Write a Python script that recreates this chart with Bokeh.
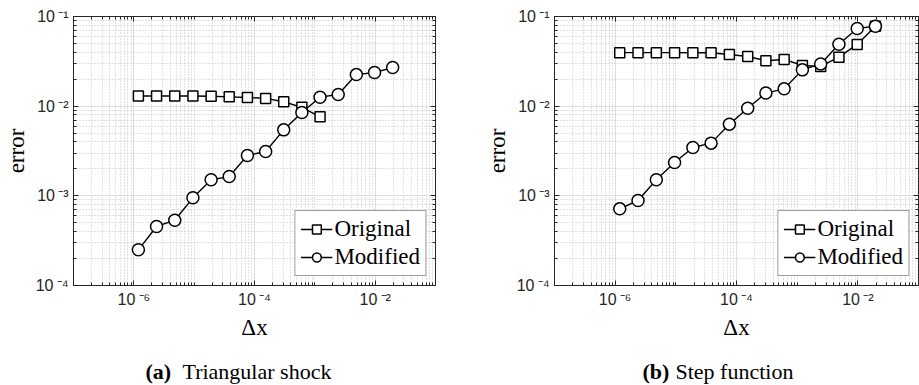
from bokeh.plotting import figure
from bokeh.models import (Range1d, LogAxis, FixedTicker, CustomJSTickFormatter,
                          Legend, LegendItem, Label)
from bokeh.layouts import row, column
from bokeh.embed import file_html
from bokeh.resources import INLINE

# ---------------- data ----------------
dx = [1.19e-6, 2.38e-6, 4.77e-6, 9.54e-6, 1.91e-5, 3.81e-5, 7.63e-5, 1.53e-4,
      3.05e-4, 6.10e-4, 1.22e-3, 2.44e-3, 4.88e-3, 9.77e-3, 1.95e-2]

tri_original = [0.0130, 0.0130, 0.0130, 0.0130, 0.0129, 0.0127, 0.0125, 0.0122,
                0.0112, 0.0097, 0.0076]
tri_modified = [2.50e-4, 4.55e-4, 5.35e-4, 9.5e-4, 1.51e-3, 1.64e-3, 2.82e-3, 3.12e-3,
                5.44e-3, 8.49e-3, 0.0126, 0.0135, 0.0225, 0.0237, 0.0270]

step_original = [0.0395, 0.0395, 0.0395, 0.0395, 0.0394, 0.0394, 0.0377, 0.0358,
                 0.0321, 0.0332, 0.0284, 0.0277, 0.0352, 0.0488, 0.0780]
step_modified = [7.16e-4, 8.87e-4, 1.51e-3, 2.35e-3, 3.46e-3, 3.87e-3, 6.30e-3, 9.50e-3,
                 0.0140, 0.0156, 0.0254, 0.0296, 0.0491, 0.0734, 0.0780]

series_names = ["Original", "Modified"]
x_major = [1e-6, 1e-4, 1e-2]
y_major = [1e-4, 1e-3, 1e-2, 1e-1]
x_label = "Δx"
y_label = "error"
captions = [("(a)", "Triangular shock"), ("(b)", "Step function")]

# minor ticks: every 1..9 x 10^k that is not a major tick
x_minor = [m * 10.0 ** k for k in range(-7, -1) for m in range(1, 10)
           if not (m == 1 and k in (-6, -4, -2))] + [1e-1]
y_minor = [m * 10.0 ** k for k in range(-4, -1) for m in range(2, 10)]

AX = "#262626"
SUP_CODE = """
const s = {"-":"\u207b","0":"\u2070","1":"\u00b9","2":"\u00b2","3":"\u00b3","4":"\u2074",
           "5":"\u2075","6":"\u2076","7":"\u2077","8":"\u2078","9":"\u2079"};
const e = Math.round(Math.log10(tick));
return "10\u2009" + String(e).split("").map(c => s[c]).join("");
"""


def style_axis(ax, show_labels):
    ax.axis_line_color = AX
    ax.major_tick_line_color = AX
    ax.minor_tick_line_color = AX
    ax.major_tick_in = 5
    ax.major_tick_out = 0
    ax.minor_tick_in = 3
    ax.minor_tick_out = 0
    if show_labels:
        ax.formatter = CustomJSTickFormatter(code=SUP_CODE)
        ax.major_label_text_font = "Liberation Sans"
        ax.major_label_text_font_size = "16px"
        ax.major_label_text_color = AX
    else:
        ax.major_label_text_font_size = "1px"
        ax.major_label_text_alpha = 0
        ax.major_label_standoff = 0
        ax.axis_label_standoff = 0


def make_panel(orig, mod, width, bl, br):
    p = figure(width=width, height=345, x_axis_type="log", y_axis_type="log",
               x_range=Range1d(1e-7, 1e-1), y_range=Range1d(1e-4, 1e-1),
               output_backend="svg", toolbar_location=None,
               min_border_left=bl, min_border_right=br, min_border_top=16,
               min_border_bottom=60)
    p.outline_line_color = AX
    p.background_fill_color = "white"
    p.border_fill_color = "white"

    xt = FixedTicker(ticks=x_major, minor_ticks=x_minor)
    yt = FixedTicker(ticks=y_major, minor_ticks=y_minor)
    p.xaxis[0].ticker = xt
    p.yaxis[0].ticker = yt
    style_axis(p.xaxis[0], True)
    style_axis(p.yaxis[0], True)
    p.xaxis[0].major_label_standoff = 5
    p.yaxis[0].major_label_standoff = 5

    p.xaxis[0].axis_label = x_label
    p.yaxis[0].axis_label = y_label
    for ax in (p.xaxis[0], p.yaxis[0]):
        ax.axis_label_text_font = "Liberation Serif"
        ax.axis_label_text_font_size = "23px"
        ax.axis_label_text_font_style = "normal"
        ax.axis_label_text_color = "black"
    p.xaxis[0].axis_label_standoff = 4
    p.yaxis[0].axis_label_standoff = 4

    top = LogAxis(ticker=xt)
    style_axis(top, False)
    p.add_layout(top, "above")
    right = LogAxis(ticker=yt)
    style_axis(right, False)
    p.add_layout(right, "right")

    for g in (p.xgrid[0], p.ygrid[0]):
        g.grid_line_color = "#dedede"
        g.grid_line_width = 1
        g.minor_grid_line_color = "#c4c4c4"
        g.minor_grid_line_dash = "1 2"
        g.minor_grid_line_width = 1
    p.xgrid[0].ticker = xt
    p.ygrid[0].ticker = yt

    n = len(orig)
    l1 = p.line(dx[:n], orig, line_color="black", line_width=1.4)
    s1 = p.scatter(dx[:n], orig, marker="square", size=10, fill_color="white",
                   line_color="black", line_width=1.5)
    l2 = p.line(dx[:len(mod)], mod, line_color="black", line_width=1.4)
    s2 = p.scatter(dx[:len(mod)], mod, marker="circle", size=12, fill_color="white",
                   line_color="black", line_width=1.5)

    legend = Legend(items=[LegendItem(label=series_names[0], renderers=[l1, s1]),
                           LegendItem(label=series_names[1], renderers=[l2, s2])],
                    location="bottom_right", margin=9, padding=5, spacing=2,
                    glyph_width=32, glyph_height=22, label_height=22,
                    label_standoff=2, label_text_color="black",
                    label_text_font="Liberation Serif", label_text_font_size="23px",
                    border_line_color="#404040", border_line_width=1,
                    background_fill_color="white", background_fill_alpha=1)
    p.add_layout(legend)

    return p


left = make_panel(tri_original, tri_modified, 459, 70, 24)
right = make_panel(step_original, step_modified, 460, 95, 1)

# caption strip below both panels
cap = figure(width=919, height=40, x_range=Range1d(0, 919), y_range=Range1d(0, 40),
             output_backend="svg", toolbar_location=None, min_border=0)
cap.axis.visible = False
cap.grid.visible = False
cap.outline_line_color = None
cap.background_fill_color = "white"
cap.border_fill_color = "white"

for c, xa, xb in ((captions[0], 145, 182), (captions[1], 642, 675)):
    cap.add_layout(Label(x=xa, y=14, text=c[0], text_color="black",
                         text_font="Liberation Serif", text_font_size="22px",
                         text_font_style="bold", text_baseline="middle"))
    cap.add_layout(Label(x=xb, y=14, text=c[1], text_color="black",
                         text_font="Liberation Serif", text_font_size="22px",
                         text_baseline="middle"))

layout = column(row(left, right), cap)
open("out.html", "w").write(file_html(layout, INLINE))
